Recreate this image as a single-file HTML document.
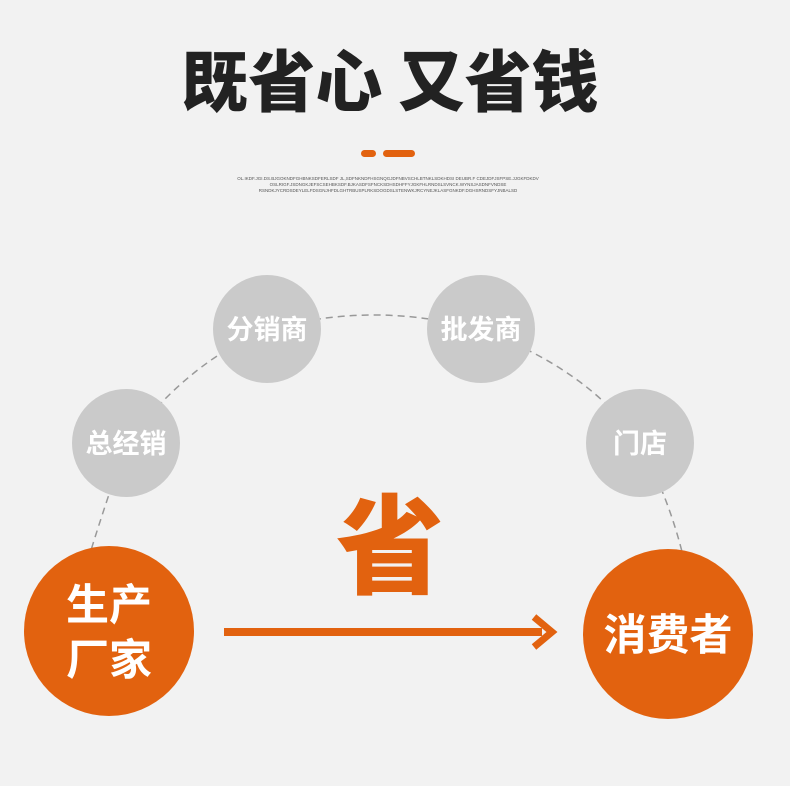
<!DOCTYPE html>
<html><head><meta charset="utf-8"><style>
html,body{margin:0;padding:0;background:#f2f2f2;}
body{width:790px;height:786px;position:relative;overflow:hidden;font-family:"Liberation Sans","Noto Sans CJK SC",sans-serif;}
</style></head><body>
<svg width="790" height="786" style="position:absolute;left:0;top:0" xmlns="http://www.w3.org/2000/svg">
<rect width="790" height="786" fill="#f2f2f2"/>
<text x="390" y="106" text-anchor="middle" font-family="Noto Sans CJK SC, sans-serif" font-weight="900" font-size="67" fill="#222">既省心 又省钱</text>
<rect x="361" y="150" width="15" height="7" rx="3.5" fill="#e2620f"/>
<rect x="383" y="150" width="32" height="7" rx="3.5" fill="#e2620f"/>
<g font-size="4.5" fill="#555" text-anchor="middle" font-family="Liberation Sans, sans-serif">
<text x="388" y="180">OL.IKDF.JGI.DS.BJGOKNDFGHBNKSDFERLSDF JL,SDFNKNDFHSGNQGJDFNBVSCHLBTNKLSDKHDSI DEUBR.F CDEJDFJSFPSE.JJGKFDKDV</text>
<text x="388" y="186">OSLRIGF.JSDNGKJEFSCSEHBKSDF.BJKASDFSFNCKSDHSDHFFYJGKFHLRNDSLSVNCK.WYNSJASDNFVNDSE</text>
<text x="388" y="192">RSNDKJYCRDSDEYLELFDSGNJHFDLGHTRBUSPLRKSDOGDSLSTENWKJRCYNEJKLASFGNKDF.DGHSRNDSFYJNBALSD</text>
</g>
<g fill="none" stroke="#999" stroke-width="1.5" stroke-dasharray="7,5">
<path d="M 88 560 Q 100 520 126 444"/>
<path d="M 126 444 Q 190 360 267 330"/>
<path d="M 267 330 Q 374 300 481 330"/>
<path d="M 481 330 Q 590 370 640 444"/>
<path d="M 640 444 Q 670 500 684 560"/>
</g>
<circle cx="267" cy="329" r="54" fill="#cacaca"/>
<circle cx="481" cy="329" r="54" fill="#cacaca"/>
<circle cx="126" cy="443" r="54" fill="#cacaca"/>
<circle cx="640" cy="443" r="54" fill="#cacaca"/>
<g font-family="Noto Sans CJK SC, sans-serif" font-weight="700" fill="#fff" text-anchor="middle">
<text x="267" y="339" font-size="27">分销商</text>
<text x="481" y="339" font-size="27">批发商</text>
<text x="126" y="453" font-size="27">总经销</text>
<text x="640" y="453" font-size="27">门店</text>
</g>
<circle cx="109" cy="631" r="85" fill="#e2620f"/>
<circle cx="668" cy="634" r="85" fill="#e2620f"/>
<g font-family="Noto Sans CJK SC, sans-serif" font-weight="700" fill="#fff" text-anchor="middle">
<text x="109" y="620" font-size="43">生产</text>
<text x="109" y="675" font-size="43">厂家</text>
<text x="668" y="650" font-size="43">消费者</text>
</g>
<text x="390" y="585" text-anchor="middle" font-family="Noto Sans CJK SC, sans-serif" font-weight="900" font-size="108" fill="#e2620f">省</text>
<rect x="224" y="628" width="318" height="8" fill="#e2620f"/>
<path d="M 534 617 L 552 632 L 534 647" fill="none" stroke="#e2620f" stroke-width="7"/>
</svg>
</body></html>
